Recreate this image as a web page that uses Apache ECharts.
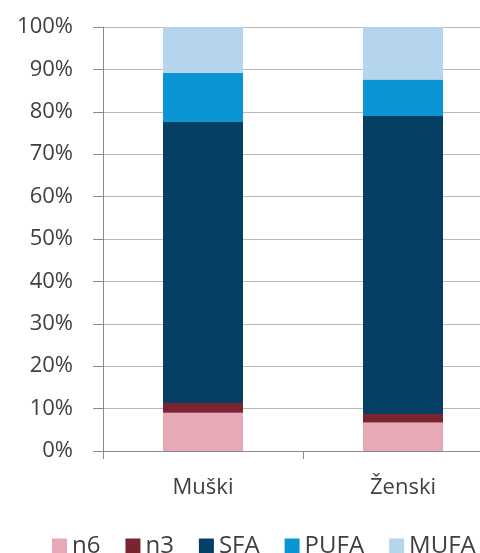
<!DOCTYPE html>
<html><head><meta charset="utf-8">
<script src="https://cdn.jsdelivr.net/npm/echarts@6/dist/echarts.min.js"></script>
<style>html,body{margin:0;padding:0;background:#fff}#c{width:480px;height:553px}</style>
</head><body><div id="c"></div>
<script>
const categories = ['Muški', 'Ženski'];
const seriesNames = ['n6', 'n3', 'SFA', 'PUFA', 'MUFA'];
const n6 = [9.0, 6.7];
const n3 = [2.3, 2.0];
const SFA = [66.3, 70.3];
const PUFA = [11.6, 8.6];
const MUFA = [10.8, 12.4];
const colors = ['#e6a9b5', '#7a2430', '#053f63', '#0a96d4', '#b4d5eb'];
const values = [n6, n3, SFA, PUFA, MUFA];

const font = 'Open Sans';
const chart = echarts.init(document.getElementById('c'));
chart.setOption({
  animation: false,
  color: colors,
  textStyle: { fontFamily: font },
  grid: { left: 103, top: 27, width: 400, height: 424, containLabel: false, outerBoundsMode: 'none' },
  legend: {
    type: 'plain',
    top: 534, left: 52, width: 700, padding: 0,
    itemWidth: 15, itemHeight: 15, itemGap: 25,
    icon: 'rect',
    textStyle: { fontSize: 24, color: '#404040', fontFamily: font },
    data: seriesNames
  },
  xAxis: {
    type: 'category', data: categories,
    axisLine: { lineStyle: { color: '#8a8a8a' } },
    axisTick: { show: true, length: 8, lineStyle: { color: '#8a8a8a' } },
    axisLabel: { fontSize: 22, color: '#404040', margin: 26, fontFamily: font }
  },
  yAxis: {
    type: 'value', min: 0, max: 100, interval: 10,
    axisLine: { show: true, lineStyle: { color: '#8a8a8a' } },
    axisTick: { show: true, length: 10, lineStyle: { color: '#8a8a8a' } },
    axisLabel: { formatter: '{value}%', fontSize: 22, color: '#404040', margin: 30, fontFamily: font },
    splitLine: { lineStyle: { color: '#b8b8b8' } }
  },
  series: seriesNames.map((n, i) => ({
    name: n, type: 'bar', stack: 'total', barWidth: 80, data: values[i]
  }))
});
</script></body></html>
